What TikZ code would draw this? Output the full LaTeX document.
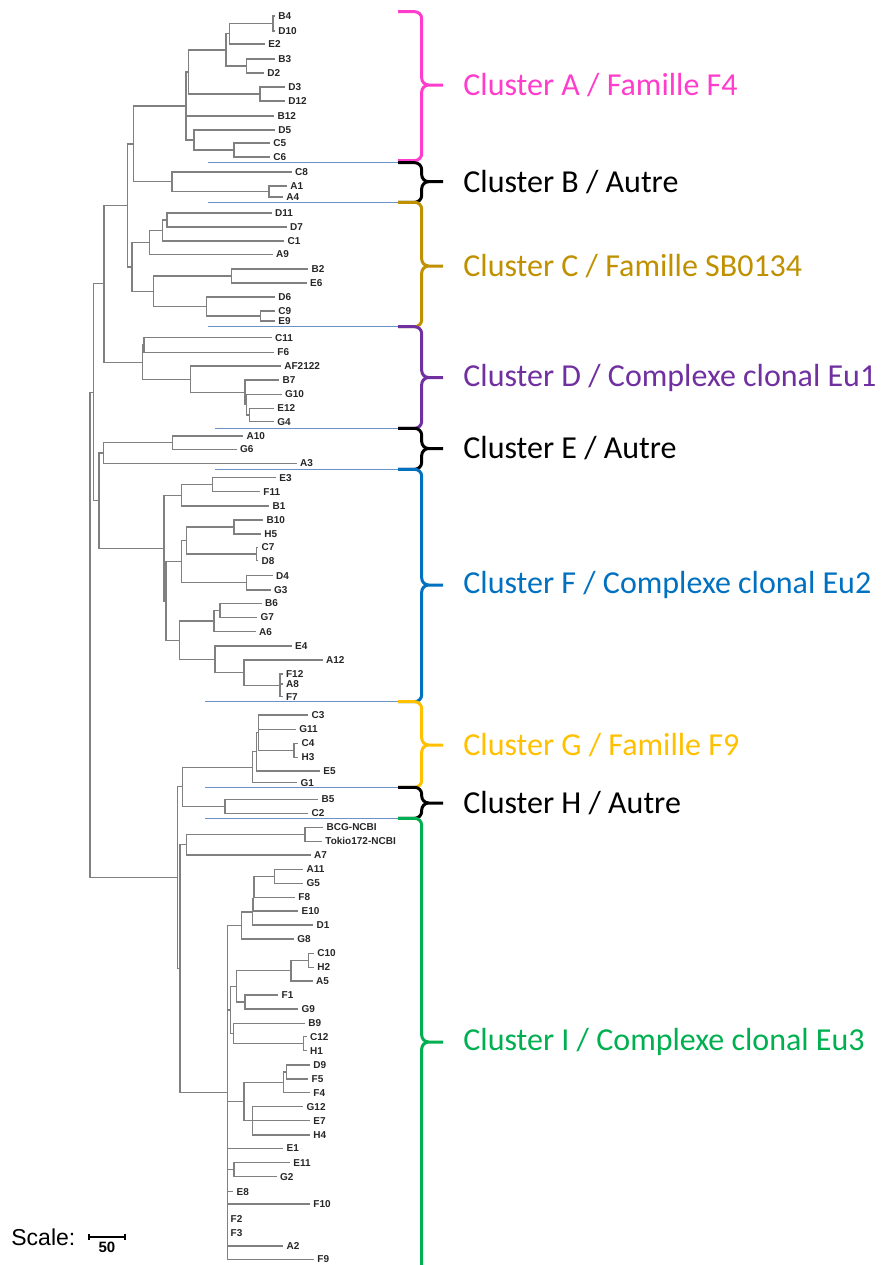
\documentclass[tikz,border=0pt]{standalone}
\usepackage{fontspec}
\setmainfont{Liberation Sans}
\newfontfamily\calibri{Carlito}
\usetikzlibrary{arrows.meta}

\definecolor{clA}{HTML}{FF3CCB}
\definecolor{clC}{HTML}{BF9000}
\definecolor{clD}{HTML}{7030A0}
\definecolor{clF}{HTML}{0070C0}
\definecolor{clG}{HTML}{FFC000}
\definecolor{clI}{HTML}{00B050}
\definecolor{sepblue}{HTML}{6C93C8}

\tikzset{
  br/.style={draw=black!50, line width=0.6pt},
  lf/.style={anchor=west, inner xsep=1.5pt, inner ysep=0pt, text=black!85, font=\bfseries\fontsize{5}{6}\selectfont},
  divline/.style={draw=sepblue, line width=0.7pt},
  brc/.style={line width=1.5pt, rounded corners=3.5pt},
  cl/.style={anchor=west, inner sep=0pt, font=\calibri\fontsize{16}{19}\selectfont}
}

\newcommand\clade[2]{\foreach \kid in {#2} \draw[br] (#1) |- (\kid);}
\newcommand\clbrace[6]{%
  \draw[brc, draw=#5] (398,#2) -| (421.7,#4) -- (443,#4) (398,#3) -| (421.7,#4) -- (443,#4);
  \node[cl, text=#5] (#1) at (463,#4) {#6};}

\begin{document}
\begin{tikzpicture}[x=0.5pt, y=-0.5pt]
\clip (0,0) rectangle (880,1265);

\foreach \n/\x/\y in {B4/275/16, D10/275/31, E2/265/44, B3/275/59, D2/264/73, D3/285/87, D12/285/101, B12/274.3/116, D5/275/130, C5/270/143, C6/270/157,
    C8/291.7/172, A1/287/186, A4/283/197,
    D11/271.7/213, D7/286.7/227, C1/284.3/241, A9/272.7/254.5, B2/308.3/269, E6/306.7/283, D6/275/297, C9/275/311, E9/275/321,
    C11/271.7/337.7, F6/274/352.3, AF2122/281/366, B7/279.3/380, G10/281.7/394.3, E12/274/408.3, G4/274/421.7,
    A10/243.3/436, G6/236.7/449.3, A3/296.7/463.3,
    E3/276/477.7, F11/260/491.7, B1/269.3/506, B10/263.3/520, H5/261/534, C7/258.3/547.3, D8/258.3/560.7, D4/272.7/575.7, G3/270.7/590,
    B6/261.7/603.3, G7/257.3/617.3, A6/255.7/631.7, E4/291.7/646, A12/322.7/660, F12/282.7/674, A8/282.7/684, F7/282.7/696.7,
    C3/308.3/715, G11/296/729.3, C4/298.3/743.3, H3/298.3/757.3, E5/320/771, G1/297.3/782.7, B5/318.3/799.3, C2/308.3/813.3,
    BCG-NCBI/323.3/827.3, Tokio172-NCBI/322/841.3, A7/310.7/855, A11/303.3/869.3, G5/303.3/883.3, F8/295/897.3, E10/298.3/911, D1/313.3/925,
    G8/294/939, C10/314/953.3, H2/314/967.3, A5/312.7/981, F1/278.3/995, G9/298.3/1009, B9/305/1023.3, C12/306.7/1036.7, H1/306.7/1050.7,
    D9/310/1065, F5/308.3/1079, F4/310/1092.7, G12/303.3/1106.7, E7/310/1120.7, H4/310/1135, E1/283.3/1148.3, E11/290/1162.7, G2/276.7/1176.7,
    E8/233.3/1191.7, F10/310/1204, F2/227.3/1219, F3/227.3/1232.7, A2/283.3/1246, F9/314/1259.3}
  \node[lf] (\n) at (\x,\y) {\n};

\foreach \n/\x/\y in {aBD/273/23.5, aB3/246.7/66, aE2/229.3/33.75, aTop/226/49.9, aD3/260/94, aY/188.3/72, aC5/234/150, aD5/194/140, aX/186/106,
    bA1/269/191.5, bX/172/181.75, ab/133.3/144,
    cD11/167/220, cC1/162.7/230.5, cA9/149.3/242.5, cB2/231.7/276, cC9/260.7/316, cD6/206.7/306.5, cY/153.3/291.25, cX/132/266.9, abc/127.7/205.4,
    dC11/144/345, dE12/249.3/415, dG10/246.7/404.65, dB7/245/392.3, dAF/190.7/379.15, dX/142.3/362.1, abcd/104/283.75,
    eA10/172.7/442.65, eX/103.3/453,
    fE3/212.7/484.7, fB1/181.7/495.35, fB10/234/527, fC7/256.7/554, fY1/186.7/540.5, fD4/246.7/582.85, fY/181.7/561.7,
    fB6/220/610.3, fA6/214/621, fF12/280/685.35, fA12/244/672.7, fE4/215/659.35, fZ/179.3/640.2, fW/166/600.95, fX/164/548.15,
    ef/99/500.6, aToF/93.5/392.2,
    gC4/294/750.3, gC3/258.3/732.65, gE5/256.7/751.8, gX/252.3/767.25, hB5/225/806.3, gh/182.7/786.8,
    iBCG/305/834.3, iA7/186.7/844.65, iA11/274.3/876.3, iF8a/254/886.8, iF8b/253.3/898.9, iF8/252.3/912, iG8/241.7/925.5,
    iC10/308.3/960.3, iA5/291/970.65, iF1/245/1002, iA5F1/236.7/986.3, iC12/303.3/1043.7, iB9/233.3/1033.5, iB9F/230.7/1009.9,
    iD9/286.7/1072, iF4/283.3/1082.35, iG12/252.7/1120.85, iE7/244/1101.6, iE11/234/1169.7, iX/227.3/1092.4,
    iY/180/968.5, ghi/177.3/877.65, root/90/634.9}
  \coordinate (\n) at (\x,\y);

\clade{aBD}{B4.west,D10.west}
\clade{aB3}{B3.west,D2.west}
\clade{aE2}{aBD,E2.west}
\clade{aTop}{aE2,aB3}
\clade{aD3}{D3.west,D12.west}
\clade{aY}{aTop,aD3}
\clade{aC5}{C5.west,C6.west}
\clade{aD5}{D5.west,aC5}
\clade{aX}{aY,B12.west,aD5}
\clade{bA1}{A1.west,A4.west}
\clade{bX}{C8.west,bA1}
\clade{ab}{aX,bX}
\clade{cD11}{D11.west,D7.west}
\clade{cC1}{cD11,C1.west}
\clade{cA9}{cC1,A9.west}
\clade{cB2}{B2.west,E6.west}
\clade{cC9}{C9.west,E9.west}
\clade{cD6}{D6.west,cC9}
\clade{cY}{cB2,cD6}
\clade{cX}{cA9,cY}
\clade{abc}{ab,cX}
\clade{dC11}{C11.west,F6.west}
\clade{dE12}{E12.west,G4.west}
\clade{dG10}{G10.west,dE12}
\clade{dB7}{B7.west,dG10}
\clade{dAF}{AF2122.west,dB7}
\clade{dX}{dC11,dAF}
\clade{abcd}{abc,dX}
\clade{eA10}{A10.west,G6.west}
\clade{eX}{eA10,A3.west}
\clade{fE3}{E3.west,F11.west}
\clade{fB1}{fE3,B1.west}
\clade{fB10}{B10.west,H5.west}
\clade{fC7}{C7.west,D8.west}
\clade{fY1}{fB10,fC7}
\clade{fD4}{D4.west,G3.west}
\clade{fY}{fY1,fD4}
\clade{fB6}{B6.west,G7.west}
\clade{fA6}{fB6,A6.west}
\clade{fF12}{F12.west,A8.west,F7.west}
\clade{fA12}{A12.west,fF12}
\clade{fE4}{E4.west,fA12}
\clade{fZ}{fA6,fE4}
\clade{fW}{fY,fZ}
\clade{fX}{fB1,fW}
\clade{ef}{eX,fX}
\clade{aToF}{abcd,ef}
\clade{gC4}{C4.west,H3.west}
\clade{gC3}{C3.west,G11.west,gC4}
\clade{gE5}{gC3,E5.west}
\clade{gX}{gE5,G1.west}
\clade{hB5}{B5.west,C2.west}
\clade{gh}{gX,hB5}
\clade{iBCG}{BCG-NCBI.west,Tokio172-NCBI.west}
\clade{iA7}{iBCG,A7.west}
\clade{iA11}{A11.west,G5.west}
\clade{iF8a}{iA11,F8.west}
\clade{iF8b}{iF8a,E10.west}
\clade{iF8}{iF8b,D1.west}
\clade{iG8}{iF8,G8.west}
\clade{iC10}{C10.west,H2.west}
\clade{iA5}{iC10,A5.west}
\clade{iF1}{F1.west,G9.west}
\clade{iA5F1}{iA5,iF1}
\clade{iC12}{C12.west,H1.west}
\clade{iB9}{B9.west,iC12}
\clade{iB9F}{iA5F1,iB9}
\clade{iD9}{D9.west,F5.west}
\clade{iF4}{iD9,F4.west}
\clade{iG12}{G12.west,H4.west}
\clade{iE7}{iF4,E7.west,iG12}
\clade{iE11}{E11.west,G2.west}
\clade{iX}{iG8,iB9F,iE7,E1.west,iE11,E8.west,F10.west,F2.west,F3.west,A2.west,F9.west}
\clade{iY}{iA7,iX}
\clade{ghi}{gh,iY}
\clade{root}{aToF,ghi}

\foreach \x/\y in {208.3/162.7, 208.3/202.3, 208.3/326.7, 215/428.3, 215/469.3, 205/701.7, 205/787.3, 205/818.3}
  \draw[divline] (\x,\y) -- (400,\y);

\clbrace{labA}{11.7}{160.5}{85}{clA}{Cluster A / Famille F4}
\clbrace{labB}{162.7}{202.3}{181.7}{black}{Cluster B / Autre}
\clbrace{labC}{202.3}{326.7}{266}{clC}{Cluster C / Famille SB0134}
\clbrace{labD}{326.7}{428.3}{377.5}{clD}{Cluster D / Complexe clonal Eu1}
\clbrace{labE}{428.3}{469.3}{448.5}{black}{Cluster E / Autre}
\clbrace{labF}{469.3}{701.7}{585}{clF}{Cluster F / Complexe clonal Eu2}
\clbrace{labG}{701.7}{787.3}{745}{clG}{Cluster G / Famille F9}
\clbrace{labH}{787.3}{818.3}{803}{black}{Cluster H / Autre}
\clbrace{labI}{818.3}{1300}{1042}{clI}{Cluster I / Complexe clonal Eu3}

\node[anchor=west, inner sep=0pt, font=\fontsize{11.5}{14}\selectfont] (scl) at (11,1237) {Scale:};
\draw[line width=1pt, {Bar[width=3pt]}-{Bar[width=3pt]}] (87.7,1236.7) coordinate (sL) -- (126,1236.7) coordinate (sR);
\node[inner sep=0pt, font=\bfseries\fontsize{7.5}{9}\selectfont] (sv) at (107,1247.5) {50};
\end{tikzpicture}
\end{document}
